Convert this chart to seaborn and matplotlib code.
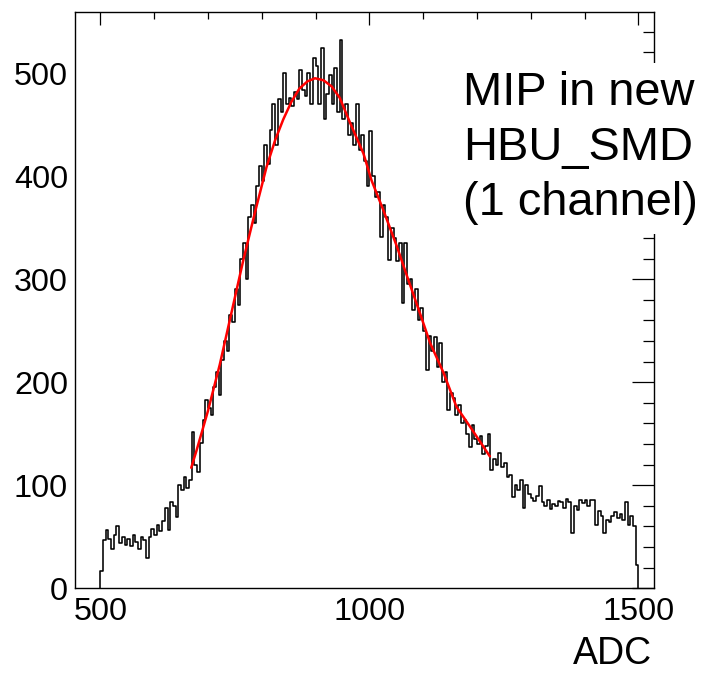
import numpy as np
import pandas as pd
import matplotlib
matplotlib.use("Agg")
import matplotlib.pyplot as plt
import seaborn as sns
from matplotlib.ticker import MultipleLocator

# ---- data ----
bin_edges_start = 500
bin_width = 5
counts = [
    17, 47, 57, 48, 38, 52, 60, 44, 50, 42,
    48, 41, 52, 45, 38, 50, 47, 29, 50, 58,
    52, 61, 56, 65, 78, 57, 84, 80, 69, 100,
    95, 108, 97, 105, 152, 120, 113, 141, 163, 183,
    175, 168, 195, 210, 188, 222, 240, 230, 265, 258,
    290, 275, 320, 335, 300, 360, 372, 355, 390, 410,
    395, 430, 412, 445, 470, 430, 475, 462, 500, 470,
    476, 468, 482, 475, 503, 484, 478, 500, 470, 515,
    507, 470, 524, 455, 480, 498, 470, 505, 462, 532,
    455, 470, 440, 452, 430, 470, 425, 440, 415, 390,
    444, 400, 380, 385, 341, 372, 360, 319, 350, 340,
    318, 335, 277, 335, 295, 300, 270, 290, 260, 272,
    250, 212, 245, 230, 244, 215, 238, 200, 210, 173,
    190, 185, 168, 178, 160, 163, 150, 137, 158, 145,
    140, 148, 130, 138, 150, 115, 125, 120, 131, 118,
    122, 108, 110, 89, 100, 95, 105, 78, 100, 92,
    88, 85, 90, 99, 84, 80, 86, 77, 82, 80,
    85, 84, 78, 87, 84, 54, 80, 76, 86, 83,
    86, 80, 86, 86, 61, 75, 70, 54, 66, 64,
    70, 74, 68, 72, 66, 84, 61, 70, 60, 23,
]

fit_x = [669, 679, 700, 722, 744, 766, 788, 809, 825, 840, 855, 870, 885, 899,
         915, 930, 945, 964, 989, 1004, 1026, 1051, 1070, 1094, 1113, 1138,
         1162, 1187, 1224]
fit_y = [117, 134, 172, 217, 268, 319, 366, 409, 435, 455, 472, 485, 492, 495,
         493, 487, 476, 452, 422, 396, 367, 332, 303, 267, 238, 209,
         176, 157, 128]

text_lines = ["MIP in new", "HBU_SMD", "(1 channel)"]
x_label = "ADC"

# ---- frame ----
n_bins = len(counts)
edges = [bin_edges_start + bin_width * i for i in range(n_bins + 1)]
step_x = [edges[0]] + edges
step_y = [0] + counts + [0]
hist_df = pd.DataFrame({"adc": step_x, "n": step_y})
fit_df = pd.DataFrame({"adc": fit_x, "fit": fit_y})

sns.set_theme(style="white")
plt.rcParams["font.family"] = ["Liberation Sans", "DejaVu Sans"]
plt.rcParams["text.color"] = "black"

fig = plt.figure(figsize=(7.03, 6.73), dpi=100)
ax = fig.add_axes([75 / 703, 1 - 588.3 / 673, (654 - 75) / 703, (588.3 - 12.3) / 673])

sns.lineplot(data=hist_df, x="adc", y="n", estimator=None, sort=False,
             drawstyle="steps-post", color="black", linewidth=1.15, ax=ax)
sns.lineplot(data=fit_df, x="adc", y="fit", estimator=None, sort=False,
             color="red", linewidth=1.8, ax=ax)

ax.set_xlim(453, 1529)
ax.set_ylim(0, 559)
ax.set_xlabel("")
ax.set_ylabel("")

for sp in ax.spines.values():
    sp.set_color("black")
    sp.set_linewidth(1.0)

ax.xaxis.set_major_locator(MultipleLocator(500))
ax.xaxis.set_minor_locator(MultipleLocator(100))
ax.yaxis.set_major_locator(MultipleLocator(100))
ax.yaxis.set_minor_locator(MultipleLocator(20))

ax.tick_params(axis="both", which="both", direction="in", color="black",
               labelcolor="black", top=True, right=True, width=0.9)
ax.tick_params(axis="x", which="major", length=9.5, labelsize=23.3, pad=6)
ax.tick_params(axis="x", which="minor", length=5)
ax.tick_params(axis="y", which="major", length=15.6, labelsize=23.3, pad=5)
ax.tick_params(axis="y", which="minor", length=8)

fig.text(652 / 703, 1 / 673, x_label, ha="right", va="bottom",
         fontsize=27, color="black")

fig.text(463 / 703, 1 - 71 / 673, "\n".join(text_lines), ha="left", va="top",
         fontsize=33.8, color="black", linespacing=1.33,
         bbox=dict(facecolor="white", edgecolor="none", pad=6))

fig.savefig("out.png", dpi=100)
